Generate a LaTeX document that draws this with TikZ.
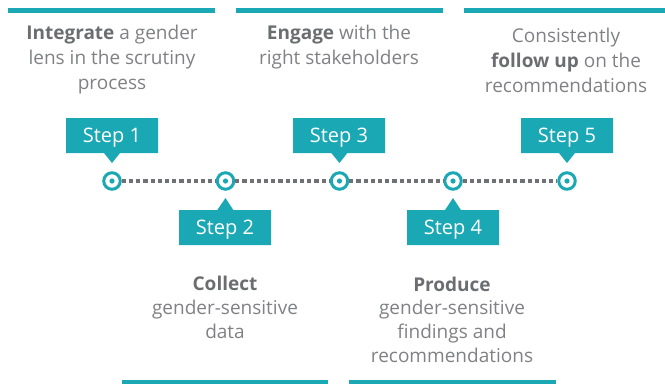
\documentclass[tikz,border=0pt]{standalone}
\usepackage{fontspec}
\setmainfont{Open Sans}
\usetikzlibrary{shapes.callouts,calc}
\definecolor{teal1}{RGB}{27,168,181}
\definecolor{txtgray}{RGB}{128,129,132}
\definecolor{boldgray}{RGB}{108,109,112}
\definecolor{dotgray}{RGB}{112,113,116}
\newcommand{\bt}[1]{\textcolor{boldgray}{\textbf{#1}}}
\begin{document}
\begin{tikzpicture}[x=1pt,y=-1pt,
  bar/.style={fill=teal1},
  desc/.style={align=center, text=txtgray, font=\fontsize{19}{25}\selectfont, inner sep=0pt},
  descb/.style={desc, font=\fontsize{19}{23.7}\selectfont},
  stepbox/.style={rectangle callout, fill=teal1, text=white, minimum width=92pt,
    minimum height=35pt, font=\fontsize{20}{24}\selectfont, inner sep=0pt,
    text height=14pt, text depth=0pt, callout pointer width=16pt},
  ring/.style={circle, draw=teal1, line width=3pt, fill=white, minimum size=16.5pt, inner sep=0pt},
  dotline/.style={draw=dotgray, line width=4.5pt, dash pattern=on 4.2pt off 3pt}
]
\useasboundingbox (0,0) rectangle (665,384);
% bars
\fill[bar] (8,8) rectangle (215,13);
\fill[bar] (236,8) rectangle (443,13);
\fill[bar] (464,8) rectangle (665,13);
\fill[bar] (122,379.5) rectangle (328,384);
\fill[bar] (349,379.5) rectangle (556,384);
% circles
\node[ring] (c1) at (112,181) {};
\node[ring] (c2) at (225.5,181) {};
\node[ring] (c3) at (339.5,181) {};
\node[ring] (c4) at (453,181) {};
\node[ring] (c5) at (567,181) {};
\draw[dotline] (c1.east) -- (c2.west);
\draw[dotline] (c2.east) -- (c3.west);
\draw[dotline] (c3.east) -- (c4.west);
\draw[dotline] (c4.east) -- (c5.west);
\foreach \i in {1,...,5} \fill[teal1] (c\i) circle (2.6pt);
% step boxes
\node[stepbox, callout absolute pointer={($(c1)+(0,-18)$)}] (s1) at (112,135.5) {Step 1};
\node[stepbox, callout absolute pointer={($(c2)+(0,17)$)}] (s2) at (225,227.5) {Step 2};
\node[stepbox, callout absolute pointer={($(c3)+(0,-18)$)}] (s3) at (339,135.5) {Step 3};
\node[stepbox, callout absolute pointer={($(c4)+(0,17)$)}] (s4) at (453,227.5) {Step 4};
\node[stepbox, callout absolute pointer={($(c5)+(0,-18)$)}] (s5) at (567,135.5) {Step 5};
% descriptions
\node[desc] (t1) at (112,60) {\bt{Integrate} a gender\\lens in the scrutiny\\process};
\node[desc] (t3) at (339,47.5) {\bt{Engage} with the\\right stakeholders};
\node[desc] (t5) at (566,60) {Consistently\\\bt{follow up} on the\\recommendations};
\node[descb] (t2) at (225,307.5) {\bt{Collect}\\gender-sensitive\\data};
\node[descb] (t4) at (452,319.5) {\bt{Produce}\\gender-sensitive\\findings and\\recommendations};
\end{tikzpicture}
\end{document}
